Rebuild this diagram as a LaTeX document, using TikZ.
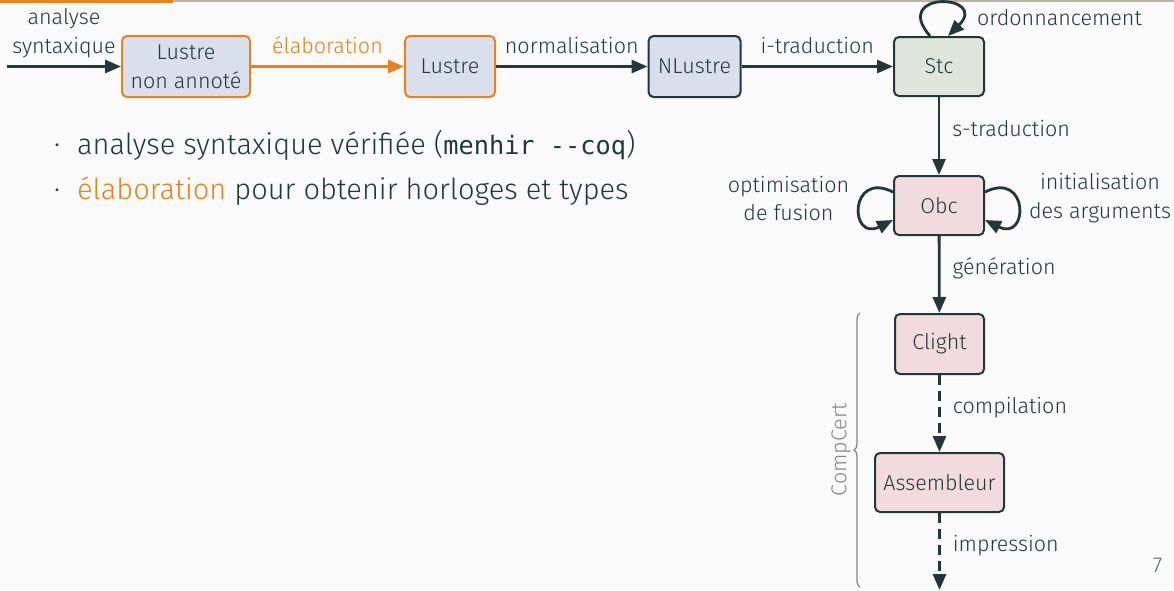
\documentclass[tikz,border=0pt]{standalone}
\usepackage{fontspec}
\setmainfont{Fira Sans}[UprightFont={* Light}]
\setmonofont{DejaVu Sans Mono}
\usetikzlibrary{positioning, calc, arrows.meta, decorations.pathreplacing}
\tikzset{>={Triangle[length=16pt,width=13pt]}}

\definecolor{mDarkTeal}{HTML}{23373B}
\definecolor{mLightBrown}{HTML}{EB811B}
\definecolor{mBg}{HTML}{FAFAFA}
\definecolor{mBar}{HTML}{B9B0A6}
\definecolor{fillLustre}{HTML}{DADFEE}
\definecolor{fillStc}{HTML}{DFE5DA}
\definecolor{fillObc}{HTML}{F1DBDF}
\definecolor{braceGray}{HTML}{858585}

\newcommand{\diagfont}{\fontsize{21.5}{28.5}\selectfont}
\newcommand{\bodyfont}{\fontsize{29}{44.5}\selectfont}

\begin{document}
\begin{tikzpicture}
    [
        x=1pt, y=1pt,
        box/.style={draw=mDarkTeal, line width=2pt, rounded corners=5pt, inner sep=0pt, minimum height=61pt, align=center, font=\diagfont, text=mDarkTeal},
        blue_node/.style={box, fill=fillLustre},
        orange_node/.style={blue_node, draw=mLightBrown},
        green_node/.style={box, fill=fillStc},
        pink_node/.style={box, fill=fillObc},
        pass/.style={->, line width=2.8pt, draw=mDarkTeal},
        lbl/.style={font=\diagfont, text=mDarkTeal, inner sep=0pt},
        item/.style={inner sep=0pt, anchor=base west, font=\bodyfont, text=mDarkTeal},
    ]

  % slide background and progress bar
  \fill[mBg] (0,0) rectangle (1174,-590);
  \useasboundingbox (0,0) rectangle (1174,-590);
  \fill[mBar] (173,0) rectangle (1174,-2);
  \fill[mLightBrown] (0,0) rectangle (173,-2.5);

  % languages
  \node[orange_node, minimum width=128pt] (lna) at (186,-66.5) {Lustre\\non annoté};
  \node[orange_node, minimum width=90pt] (lus) at (450,-66.5) {Lustre};
  \node[blue_node, minimum width=92pt] (nlus) at (694.5,-66.5) {NLustre};
  \node[green_node, minimum width=90pt, minimum height=59pt] (stc) at (939,-66.5) {Stc};
  \node[pink_node, minimum width=90pt, minimum height=59pt] (obc) at (939,-205.5) {Obc};
  \node[pink_node, minimum width=89pt, minimum height=60pt] (clight) at (939.5,-344) {Clight};
  \node[pink_node, minimum width=129pt, minimum height=59pt] (asm) at (939.5,-482.5) {Assembleur};

  \coordinate (src) at (7,-66.5);
  \coordinate (sink) at (939.5,-590);

  % passes
  \draw[pass] (src) -- (lna)
    node[midway, lbl, align=center, anchor=base, yshift=13.2pt] {analyse\\syntaxique};
  \draw[pass, draw=mLightBrown] (lna) -- (lus)
    node[midway, lbl, anchor=base, yshift=13pt, text=mLightBrown] {élaboration};
  \draw[pass] (lus) -- (nlus)
    node[midway, lbl, anchor=base, yshift=13pt] {normalisation};
  \draw[pass] (nlus) -- (stc)
    node[midway, lbl, anchor=base, yshift=13pt] {i-traduction};
  \draw[pass] (stc) -- (obc)
    node[midway, lbl, anchor=base west, xshift=12pt] {s-traduction};
  \draw[pass] (obc) -- (clight)
    node[midway, lbl, anchor=base west, xshift=12pt] {génération};
  \draw[pass, dash pattern=on 10pt off 6pt] (clight) -- (asm)
    node[midway, lbl, anchor=base west, xshift=12pt] {compilation};
  \draw[pass, dash pattern=on 10pt off 6pt] (asm) -- (sink)
    node[midway, lbl, anchor=base west, xshift=12pt] {impression};

  % optimisations
  \draw[pass] ([xshift=-9pt]stc.north) .. controls +(-40,46) and +(42,42) .. ([xshift=9pt]stc.north);
  \draw[pass] ([yshift=13.5pt]obc.west) .. controls +(-44,22) and +(-44,-22) .. ([yshift=-14.5pt]obc.west);
  \draw[pass] ([yshift=13.5pt]obc.east) .. controls +(44,22) and +(44,-22) .. ([yshift=-14.5pt]obc.east);
  \node[lbl, anchor=base] (ordo) at (1059.5,-25) {ordonnancement};
  \node[lbl, align=center, anchor=base] (fusion) at (788.5,-220.7) {optimisation\\de fusion};
  \node[lbl, align=center, anchor=base] (init) at (1100,-218.3) {initialisation\\des arguments};

  % CompCert part
  \draw[braceGray, line width=1.3pt, decorate, decoration={brace, amplitude=6pt}]
    (860,-587) -- (860,-313);
  \node[lbl, text=braceGray, rotate=90] (compcert) at (841,-450) {CompCert};

  % bullets
  \node[item] (dot1) at (54,-154.5) {·};
  \node[item] (item1) at (77,-154.5)
    {analyse syntaxique vérifiée (\texttt{\fontsize{25.3}{30}\selectfont menhir {-}{-}coq})};
  \node[item] (dot2) at (54,-199) {·};
  \node[item] (item2) at (77,-199)
    {\textcolor{mLightBrown}{élaboration} pour obtenir horloges et types};

  \node[lbl, anchor=base, text=mDarkTeal!75] (page) at (1157.5,-572) {7};
\end{tikzpicture}
\end{document}
